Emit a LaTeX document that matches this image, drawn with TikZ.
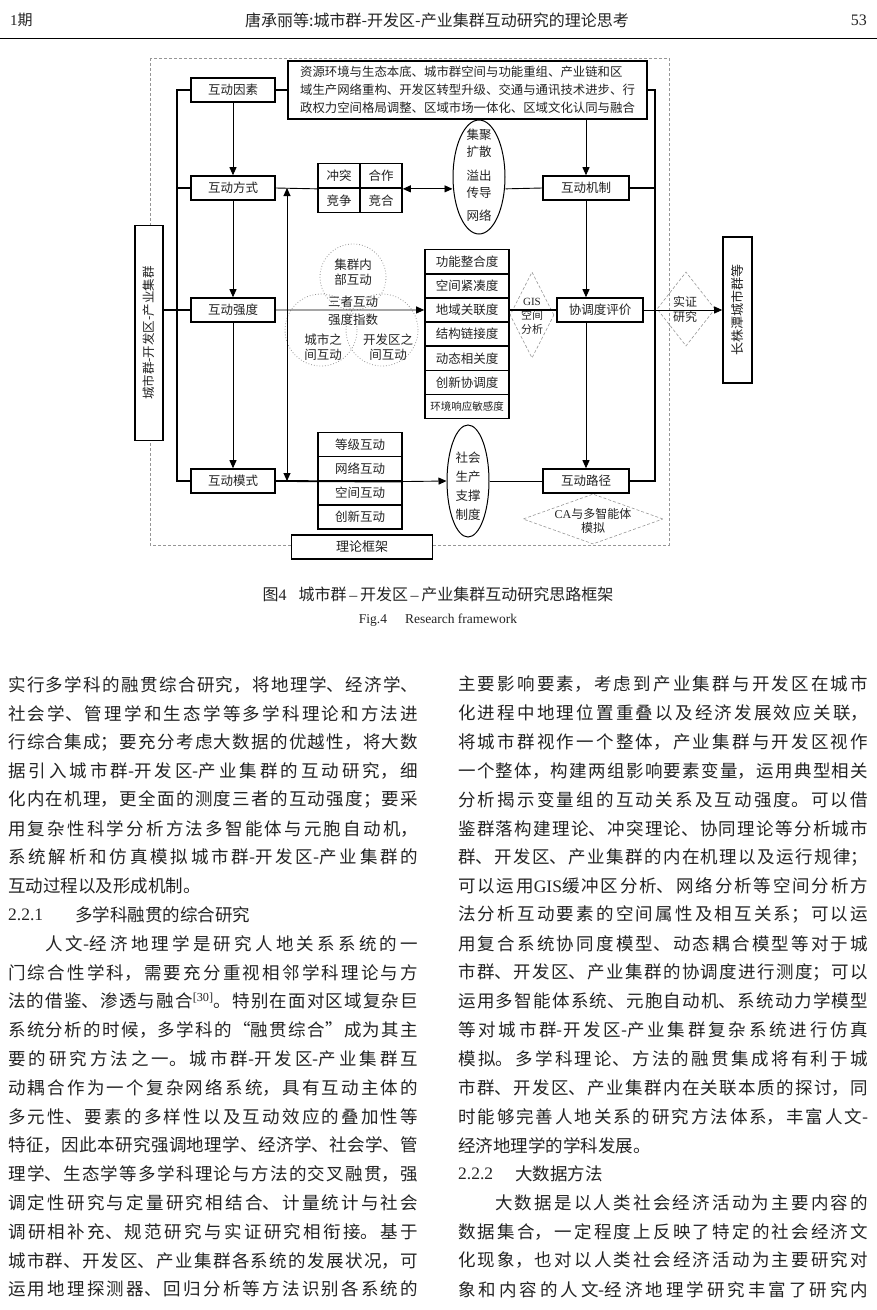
\documentclass[tikz,border=0pt]{standalone}
\usepackage{fontspec}
\usepackage{graphicx}
\usetikzlibrary{arrows.meta,shapes.geometric,positioning}
\setmainfont{Noto Sans CJK SC}
\newfontfamily\lat{Liberation Serif}
\XeTeXlinebreaklocale "zh"
\XeTeXlinebreakskip=0pt plus 4pt
\tolerance=9000
\definecolor{inkgray}{RGB}{35,35,35}
\definecolor{framegray}{RGB}{150,150,150}
\newcommand{\fsz}[2]{\fontsize{#1pt}{#2pt}\selectfont}
\newcommand{\jl}[1]{\parfillskip=0pt\relax\noindent #1\par}

\begin{document}
\begin{tikzpicture}[x=1pt,y=-1pt,
    every node/.style={text=inkgray},
    box/.style={draw=black,line width=1.6pt,fill=white,inner sep=0pt,minimum height=24pt,font=\fsz{12.5}{15}},
    cell/.style={box,minimum width=84pt,minimum height=24.2pt},
    txt/.style={inner sep=0pt,align=center,font=\fsz{12.5}{15}},
    venn/.style={circle,draw=framegray,dotted,line width=0.8pt,inner sep=0pt},
    gem/.style={diamond,draw=framegray,dash pattern=on 3pt off 2pt,line width=0.6pt,inner sep=0pt},
    oval/.style={ellipse,draw=black,line width=1pt,inner sep=0pt},
    bus/.style={line width=1.8pt},
    link/.style={line width=0.9pt},
    arr/.style={link,-{Triangle[length=8pt,width=7pt]}},
    dbl/.style={link,{Triangle[length=8pt,width=7pt]}-{Triangle[length=8pt,width=7pt]}},
    para/.style={anchor=west,inner sep=0pt,text width=410pt,align=justify,font=\fsz{17.5}{20}},
    plain/.style={anchor=west,inner sep=0pt,font=\fsz{17.5}{20}}]
  \useasboundingbox (0,0) rectangle (877,1310);

  % running head
  \node[anchor=west,inner sep=0pt,font=\fsz{15}{18}] (issue) at (10,20) {{\lat 1}期};
  \node[inner sep=0pt,font=\fsz{16}{18}] (title) at (437,20) {唐承丽等:城市群-开发区-产业集群互动研究的理论思考};
  \node[anchor=east,inner sep=0pt,font=\fsz{16}{18}\lat] (page) at (867,20) {53};
  \draw[line width=1pt] (0,38) -- (877,38);

  % framework
  \draw[framegray,dash pattern=on 3pt off 2pt,line width=0.6pt] (150,58) rectangle (669,545);

  \node[box,minimum width=28pt,minimum height=215pt] (side) at (149,333) {\rotatebox{90}{城市群-开发区-产业集群}};
  \node[box,minimum width=84pt] (fac) at (233,90) {互动因素};
  \node[box,minimum width=84pt] (way) at (233,188) {互动方式};
  \node[box,minimum width=84pt] (str) at (233,310) {互动强度};
  \node[box,minimum width=84pt] (mode) at (233,481) {互动模式};
  \node[box,minimum width=359pt,minimum height=58pt,align=left,font=\fsz{12.4}{18}] (big) at (467.5,90)
    {资源环境与生态本底、城市群空间与功能重组、产业链和区\\域生产网络重构、开发区转型升级、交通与通讯技术进步、行\\政权力空间格局调整、区域市场一体化、区域文化认同与融合};
  \node[box,minimum width=86pt] (mech) at (586,188) {互动机制};
  \node[box,minimum width=86pt] (eval) at (600,310) {协调度评价};
  \node[box,minimum width=86pt] (path) at (586,481) {互动路径};
  \node[box,minimum width=29pt,minimum height=146pt,font=\fsz{13}{15}] (cz) at (737.5,310) {\rotatebox{90}{长株潭城市群等}};

  % conflict grid
  \node[box,minimum width=42pt,minimum height=24.5pt] (c11) at (339,175.8) {冲突};
  \node[box,minimum width=42pt,minimum height=24.5pt] (c12) at (381,175.8) {合作};
  \node[box,minimum width=42pt,minimum height=24.5pt] (c21) at (339,200.3) {竞争};
  \node[box,minimum width=42pt,minimum height=24.5pt] (c22) at (381,200.3) {竞合};

  \node[oval,minimum width=52pt,minimum height=114pt] (ell1) at (479,177) {};
  \node[txt,font=\fsz{12.5}{17}] at (479,175.5) {集聚\\扩散\\[7pt]溢出\\传导\\[6pt]网络};
  \node[oval,minimum width=42pt,minimum height=112pt] (ell2) at (468,481) {};
  \node[txt,font=\fsz{12.5}{19}] at (468,486.5) {社会\\生产\\支撑\\制度};

  % intensity index
  \node[venn,minimum size=66pt] (vin) at (353,277) {};
  \node[venn,minimum size=72pt] (vcity) at (321,330) {};
  \node[venn,minimum size=72pt] (vzone) at (382,330) {};
  \node[txt] at (353,272) {集群内\\部互动};
  \node[txt,font=\fsz{12.5}{18}] at (353,311) {三者互动\\强度指数};
  \node[txt] at (323,347) {城市之\\间互动};
  \node[txt] at (388,347) {开发区之\\间互动};

  \foreach \t [count=\i from 0] in {功能整合度,空间紧凑度,地域关联度,结构链接度,动态相关度,创新协调度}
    \node[cell] (m\i) at (467,{261.7+24.14*\i}) {\t};
  \node[cell,font=\fsz{10.5}{12}] (m6) at (467,{261.7+24.14*6}) {环境响应敏感度};
  \foreach \t [count=\i from 0] in {等级互动,网络互动,空间互动,创新互动}
    \node[cell] (n\i) at (360,{444.4+24.25*\i}) {\t};

  \node[gem,minimum width=44pt,minimum height=86pt] (gis) at (532,315) {};
  \node[txt,font=\fsz{11}{14}] at (532,316) {{\lat GIS}\\空间\\分析};
  \node[gem,minimum width=58pt,minimum height=74pt] (res) at (686,309) {};
  \node[txt,font=\fsz{12}{15}] at (685,309) {实证\\研究};
  \node[gem,minimum width=140pt,minimum height=50pt] (ca) at (593,519) {};
  \node[txt,font=\fsz{12}{14}] at (593,521) {{\lat CA}与多智能体\\模拟};

  \node[box,minimum width=141pt,font=\fsz{13}{15}] (theory) at (362,547) {理论框架};

  % rails
  \coordinate (lrail) at (177,310);
  \coordinate (rrail) at (655,310);
  \coordinate (tie) at (287,300);
  \draw[bus] (fac.west) -| (mode.west -| lrail) -- (mode.west);
  \draw[bus] (way.west) -- (way.west -| lrail);
  \draw[bus] (str.west) -- (str.west -| side.east);
  \draw[bus] (big.east) -| (path.east -| rrail) -- (path.east);
  \draw[bus] (mech.east) -- (mech.east -| rrail);
  \draw[bus] (fac.east) -- (big.west);

  \draw[arr] (fac) -- (way);
  \draw[arr] (way) -- (str);
  \draw[arr] (str) -- (mode);
  \draw[arr] (big.south -| mech) -- (mech);
  \draw[arr] (mech) -- (mech |- eval.north);
  \draw[arr] (eval.south -| path) -- (path);
  \draw[dbl] (way.east -| tie) -- (mode.east -| tie);

  % rows
  \draw[link] (way.east) -- (c11.south west);
  \draw[dbl] (c12.south east) -- (c12.south east -| ell1.west);
  \draw[link] (c12.south east -| ell1.east) -- (mech.west);
  \draw[arr] (str.east) -- (m2.west);
  \draw[bus] (m2.east) -- (eval.west);
  \draw[arr] (eval.east) -- (cz.west);
  \draw[bus] (mode.east) -- (n1.south east);
  \draw[arr] (n1.south east) -- (ell2.west);
  \draw[link] (ell2.east) -- (path.west);

  % caption
  \node[inner sep=0pt,font=\fsz{16}{18}] (cap) at (438,594) {图{\lat 4}\hspace{12pt}城市群{\lat\,–\,}开发区{\lat\,–\,}产业集群互动研究思路框架};
  \node[inner sep=0pt,font=\fsz{13.5}{16}\lat] (capen) at (438,620) {Fig.4\hspace{18pt}Research framework};

  % left column
  \foreach \t [count=\i from 0] in {
    {实行多学科的融贯综合研究，将地理学、经济学、},
    {社会学、管理学和生态学等多学科理论和方法进},
    {行综合集成；要充分考虑大数据的优越性，将大数},
    {据引入城市群-开发区-产业集群的互动研究，细},
    {化内在机理，更全面的测度三者的互动强度；要采},
    {用复杂性科学分析方法多智能体与元胞自动机，},
    {系统解析和仿真模拟城市群-开发区-产业集群的}}
    \node[para] at (8,{684.5+28.8*\i}) {\jl{\t}};
  \node[plain] at (8,{684.5+28.8*7}) {互动过程以及形成机制。};
  \node[plain] at (8,{684.5+28.8*8}) {\lat 2.2.1};
  \node[plain] at (75,{684.5+28.8*8}) {多学科融贯的综合研究};
  \foreach \t [count=\i from 9] in {
    {\hspace*{37pt}人文-经济地理学是研究人地关系系统的一},
    {门综合性学科，需要充分重视相邻学科理论与方},
    {法的借鉴、渗透与融合\textsuperscript{\lat [30]}。特别在面对区域复杂巨},
    {系统分析的时候，多学科的“融贯综合”成为其主},
    {要的研究方法之一。城市群-开发区-产业集群互},
    {动耦合作为一个复杂网络系统，具有互动主体的},
    {多元性、要素的多样性以及互动效应的叠加性等},
    {特征，因此本研究强调地理学、经济学、社会学、管},
    {理学、生态学等多学科理论与方法的交叉融贯，强},
    {调定性研究与定量研究相结合、计量统计与社会},
    {调研相补充、规范研究与实证研究相衔接。基于},
    {城市群、开发区、产业集群各系统的发展状况，可},
    {运用地理探测器、回归分析等方法识别各系统的}}
    \node[para] at (8,{684.5+28.8*\i}) {\jl{\t}};

  % right column
  \foreach \t [count=\i from 0] in {
    {主要影响要素，考虑到产业集群与开发区在城市},
    {化进程中地理位置重叠以及经济发展效应关联，},
    {将城市群视作一个整体，产业集群与开发区视作},
    {一个整体，构建两组影响要素变量，运用典型相关},
    {分析揭示变量组的互动关系及互动强度。可以借},
    {鉴群落构建理论、冲突理论、协同理论等分析城市},
    {群、开发区、产业集群的内在机理以及运行规律；},
    {可以运用{\lat GIS}缓冲区分析、网络分析等空间分析方},
    {法分析互动要素的空间属性及相互关系；可以运},
    {用复合系统协同度模型、动态耦合模型等对于城},
    {市群、开发区、产业集群的协调度进行测度；可以},
    {运用多智能体系统、元胞自动机、系统动力学模型},
    {等对城市群-开发区-产业集群复杂系统进行仿真},
    {模拟。多学科理论、方法的融贯集成将有利于城},
    {市群、开发区、产业集群内在关联本质的探讨，同},
    {时能够完善人地关系的研究方法体系，丰富人文-}}
    \node[para] at (458,{684.5+28.8*\i}) {\jl{\t}};
  \node[plain] at (458,{684.5+28.8*16}) {经济地理学的学科发展。};
  \node[plain] at (458,{684.5+28.8*17}) {\lat 2.2.2};
  \node[plain] at (515,{684.5+28.8*17}) {大数据方法};
  \foreach \t [count=\i from 18] in {
    {\hspace*{37pt}大数据是以人类社会经济活动为主要内容的},
    {数据集合，一定程度上反映了特定的社会经济文},
    {化现象，也对以人类社会经济活动为主要研究对},
    {象和内容的人文-经济地理学研究丰富了研究内}}
    \node[para] at (458,{684.5+28.8*\i}) {\jl{\t}};
\end{tikzpicture}
\end{document}
